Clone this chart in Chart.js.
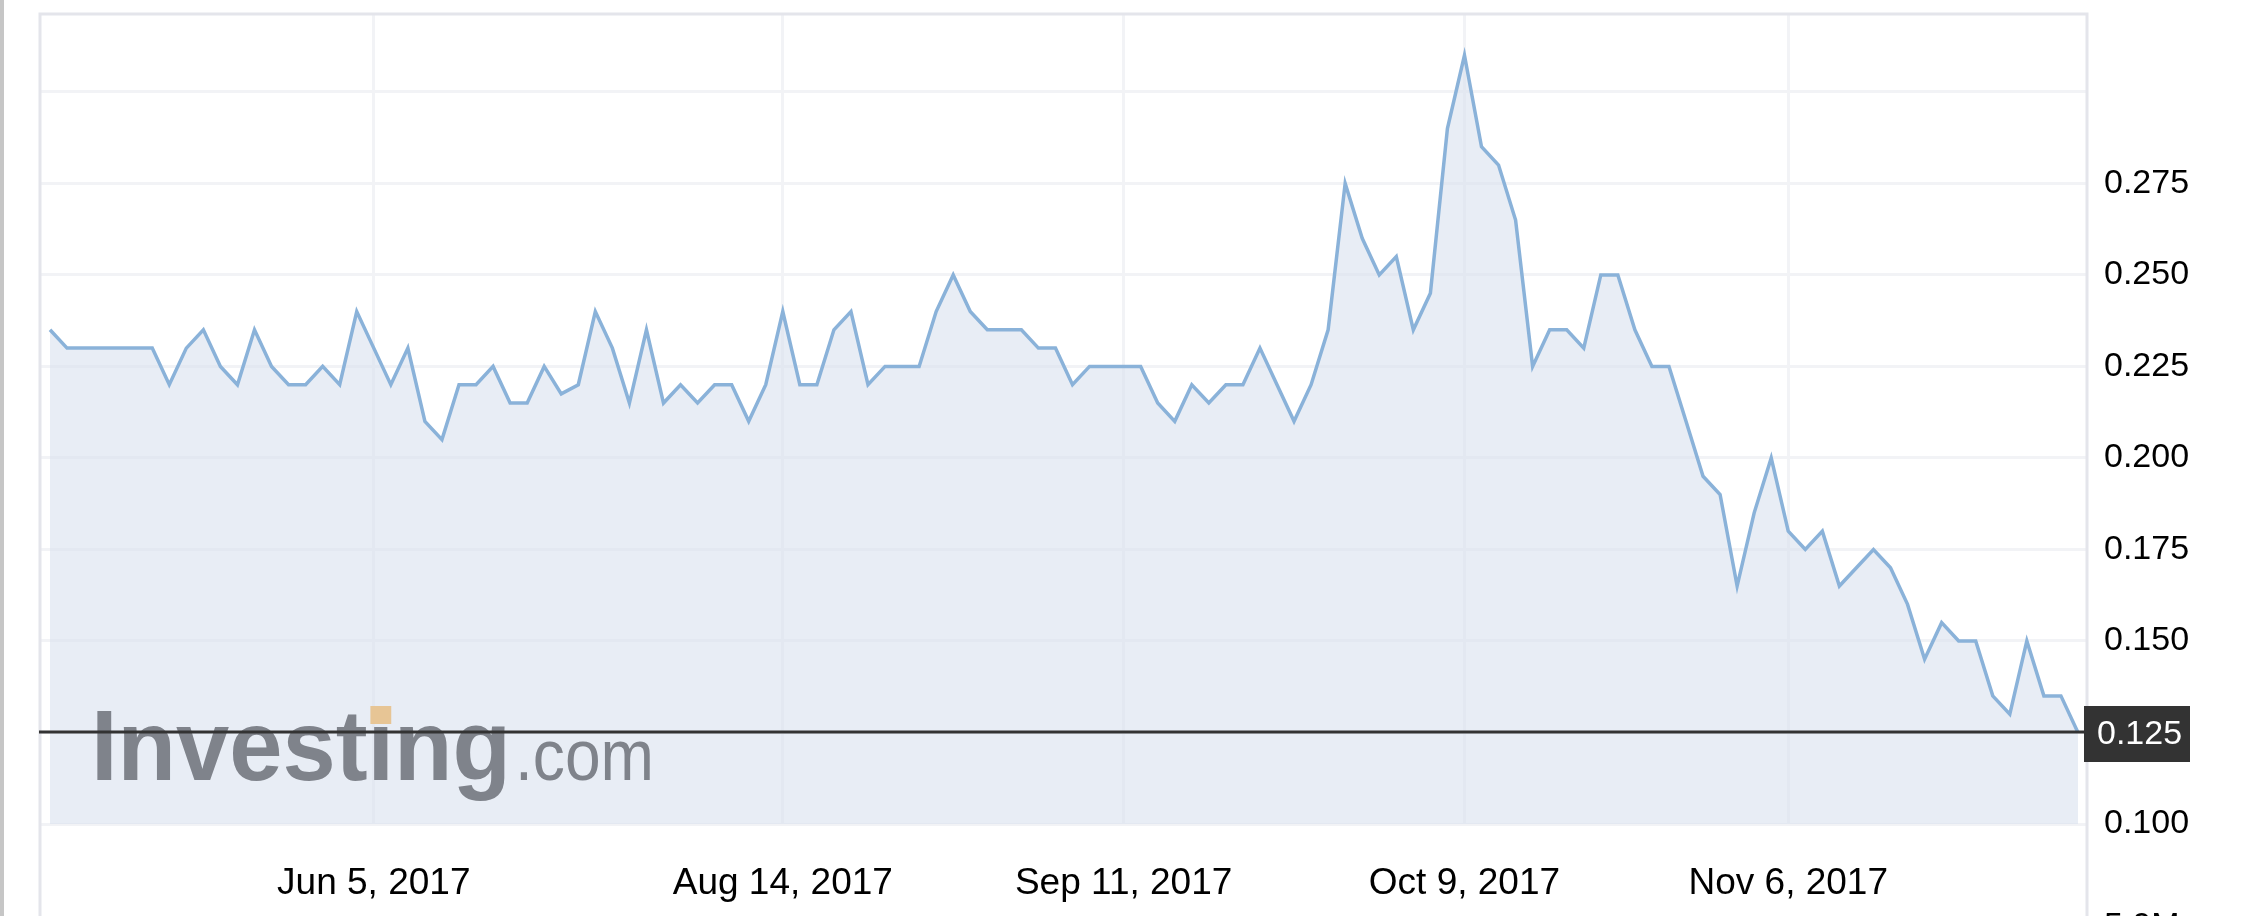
<!DOCTYPE html>
<html>
<head>
<meta charset="utf-8">
<script src="https://cdn.jsdelivr.net/npm/chart.js@4.4.0/dist/chart.umd.min.js"></script>
<style>
  html, body { margin: 0; padding: 0; background: #fff; overflow: hidden; }
  #wrap { width: 2252px; height: 916px; position: relative; }
</style>
</head>
<body>
<div id="wrap"><canvas id="price-chart"></canvas></div>
<script>
/* price history, one value per trading record */
const prices = [
  0.235, 0.230, 0.230, 0.230, 0.230, 0.230, 0.230, 0.220, 0.230, 0.235,
  0.225, 0.220, 0.235, 0.225, 0.220, 0.220, 0.225, 0.220, 0.240, 0.230,
  0.220, 0.230, 0.210, 0.205, 0.220, 0.220, 0.225, 0.215, 0.215, 0.225,
  0.2175, 0.220, 0.240, 0.230, 0.215, 0.235, 0.215, 0.220, 0.215, 0.220,
  0.220, 0.210, 0.220, 0.240, 0.220, 0.220, 0.235, 0.240, 0.220, 0.225,
  0.225, 0.225, 0.240, 0.250, 0.240, 0.235, 0.235, 0.235, 0.230, 0.230,
  0.220, 0.225, 0.225, 0.225, 0.225, 0.215, 0.210, 0.220, 0.215, 0.220,
  0.220, 0.230, 0.220, 0.210, 0.220, 0.235, 0.275, 0.260, 0.250, 0.255,
  0.235, 0.245, 0.290, 0.310, 0.285, 0.280, 0.265, 0.225, 0.235, 0.235,
  0.230, 0.250, 0.250, 0.235, 0.225, 0.225, 0.210, 0.195, 0.190, 0.165,
  0.185, 0.200, 0.180, 0.175, 0.180, 0.165, 0.170, 0.175, 0.170, 0.160,
  0.145, 0.155, 0.150, 0.150, 0.135, 0.130, 0.150, 0.135, 0.135, 0.125
];

/* x axis: record index where each date label sits */
const xTickIndex = [19, 43, 63, 83, 102];
const xTickLabels = ['Jun 5, 2017', 'Aug 14, 2017', 'Sep 11, 2017', 'Oct 9, 2017', 'Nov 6, 2017'];

/* y axis */
const yTicks = [0.100, 0.125, 0.150, 0.175, 0.200, 0.225, 0.250, 0.275, 0.300];
const yTickLabels = ['0.100', '0.125', '0.150', '0.175', '0.200', '0.225', '0.250', '0.275', ''];
const volumeTickLabels = ['5.0M'];

const FONT = '"Liberation Sans", Arial, Helvetica, sans-serif';

const framePlugin = {
  id: 'frame',
  beforeDraw(chart) {
    const ctx = chart.ctx;
    ctx.save();
    ctx.fillStyle = '#fff';
    ctx.fillRect(0, 0, chart.width, chart.height);
    ctx.fillStyle = '#c6c6c6';
    ctx.fillRect(0, 0, 4, chart.height);
    ctx.restore();
  },
  beforeDatasetsDraw(chart) {
    const ctx = chart.ctx;
    const a = chart.chartArea;
    ctx.save();
    ctx.strokeStyle = '#e4e5eb';
    ctx.lineWidth = 3;
    ctx.beginPath();
    ctx.moveTo(a.left + 1, chart.height);
    ctx.lineTo(a.left + 1, a.top - 1);
    ctx.lineTo(a.right, a.top - 1);
    ctx.lineTo(a.right, chart.height);
    ctx.stroke();
    ctx.restore();
  },
  afterDatasetsDraw(chart) {
    const ctx = chart.ctx;
    const a = chart.chartArea;
    ctx.save();
    // watermark
    ctx.fillStyle = '#7f838b';
    ctx.textBaseline = 'alphabetic';
    ctx.font = 'bold 100px ' + FONT;
    const x0 = a.left + 52, base = 780;
    const w1 = ctx.measureText('Investing').width;
    ctx.save();
    ctx.translate(x0, base);
    ctx.scale(420 / w1, 1);
    ctx.fillText('Investing', 0, 0);
    const wi = ctx.measureText('Invest').width;
    const wii = ctx.measureText('i').width;
    ctx.fillStyle = '#e7c595';
    ctx.fillRect(wi + 3, -74, wii - 6, 18);
    ctx.restore();
    ctx.font = '72px ' + FONT;
    const w2 = ctx.measureText('.com').width;
    ctx.save();
    ctx.translate(x0 + 424, base);
    ctx.scale(139 / w2, 1);
    ctx.fillText('.com', 0, 0);
    ctx.restore();
    ctx.restore();
  },
  afterDraw(chart) {
    const ctx = chart.ctx;
    const a = chart.chartArea;
    const yScale = chart.scales.y;
    const last = prices[prices.length - 1];
    const y = Math.round(yScale.getPixelForValue(last));
    ctx.save();
    ctx.strokeStyle = '#333';
    ctx.lineWidth = 3;
    ctx.beginPath();
    ctx.moveTo(a.left, y);
    ctx.lineTo(a.right, y);
    ctx.stroke();
    ctx.fillStyle = '#333';
    ctx.fillRect(a.right - 3, y - 26, 106, 56);
    ctx.fillStyle = '#fff';
    ctx.font = '34px ' + FONT;
    ctx.textBaseline = 'middle';
    ctx.textAlign = 'left';
    ctx.fillText(last.toFixed(3), a.right + 10, y + 3);
    // volume axis label, cut by the bottom edge
    ctx.fillStyle = '#000';
    ctx.textBaseline = 'alphabetic';
    ctx.fillText(volumeTickLabels[0], a.right + 17, 936);
    ctx.restore();
  }
};

const data = {
  datasets: [{
    label: 'Price',
    data: prices.map((v, i) => ({ x: i, y: v })),
    borderColor: '#8ab2d9',
    backgroundColor: 'rgba(217, 225, 238, 0.6)',
    borderWidth: 3.5,
    pointRadius: 0,
    tension: 0,
    fill: 'start'
  }]
};

const noPad = (scale) => {
  scale.paddingTop = 0;
  scale.paddingBottom = 0;
  scale.paddingLeft = 0;
  scale.paddingRight = 0;
};

const config = {
  type: 'line',
  data: data,
  options: {
    responsive: true,
    maintainAspectRatio: false,
    animation: false,
    layout: { padding: { left: 39, top: 15, right: 0, bottom: 0 } },
    plugins: {
      legend: { display: false },
      tooltip: { enabled: false }
    },
    scales: {
      x: {
        type: 'linear',
        min: -0.645,
        max: 119.53,
        afterBuildTicks: (scale) => { scale.ticks = xTickIndex.map(v => ({ value: v })); },
        afterFit: (scale) => { scale.height = 92; noPad(scale); },
        ticks: {
          autoSkip: false,
          maxRotation: 0,
          padding: 38,
          color: '#000',
          font: { family: FONT, size: 37 },
          callback: (value) => xTickLabels[xTickIndex.indexOf(value)]
        },
        grid: { color: '#f2f3f6', lineWidth: 3, drawTicks: false },
        border: { display: false }
      },
      y: {
        position: 'right',
        min: 0.1,
        max: 0.321,
        afterBuildTicks: (scale) => { scale.ticks = yTicks.map(v => ({ value: v })); },
        afterFit: (scale) => { scale.width = 165; noPad(scale); },
        ticks: {
          padding: 17,
          color: '#000',
          font: { family: FONT, size: 34 },
          callback: (value, index) => yTickLabels[index]
        },
        grid: { color: '#f2f3f6', lineWidth: 3, drawTicks: false },
        border: { display: false }
      }
    }
  },
  plugins: [framePlugin]
};

const priceChart = new Chart(document.getElementById('price-chart'), config);
</script>
</body>
</html>
